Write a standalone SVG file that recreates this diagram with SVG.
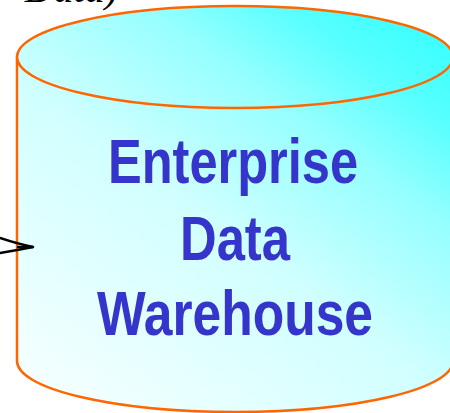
<svg xmlns="http://www.w3.org/2000/svg" width="450" height="413" viewBox="0 0 450 413">
<defs>
<linearGradient id="g" gradientUnits="userSpaceOnUse" x1="17" y1="413" x2="336" y2="-25">
<stop offset="0" stop-color="#FAFFFF"/>
<stop offset="0.5" stop-color="#D0FFFF"/>
<stop offset="0.75" stop-color="#95FFFF"/>
<stop offset="0.9" stop-color="#58FFFF"/>
<stop offset="1" stop-color="#40FFFF"/>
</linearGradient>
<style>
.edge{fill:none;stroke:#FF6600;stroke-width:2.5}
.lbl{font-family:"Liberation Sans",Arial,sans-serif;font-weight:bold;font-size:63px;fill:#3535CC;text-anchor:middle}
.conn{fill:none;stroke:#000;stroke-width:2.5;stroke-linecap:round}
</style>
</defs>
<text x="118" y="1.5" font-family="Liberation Serif, serif" font-size="40" font-style="italic" text-anchor="end" fill="#000">Data)</text>
<g id="warehouse">
<path d="M17,57 L17,361 A218,51 0 0 0 453,361 L453,57 Z" fill="url(#g)"/>
<path class="edge" d="M17,57 L17,361 A218,51 0 0 0 453,361 L453,57"/>
<ellipse cx="235" cy="57" rx="218" ry="51" class="edge" style="fill:url(#g)"/>
<text class="lbl" x="233" y="183" textLength="250" lengthAdjust="spacingAndGlyphs">Enterprise</text>
<text class="lbl" x="235" y="260" textLength="110" lengthAdjust="spacingAndGlyphs">Data</text>
<text class="lbl" x="235" y="335" textLength="276" lengthAdjust="spacingAndGlyphs">Warehouse</text>
</g>
<g id="connectors">
<path class="conn" d="M0,238 Q18,244 33,247 Q18,250 0,253"/>
<path class="conn" d="M18,247 L33,247"/>
</g>
</svg>
